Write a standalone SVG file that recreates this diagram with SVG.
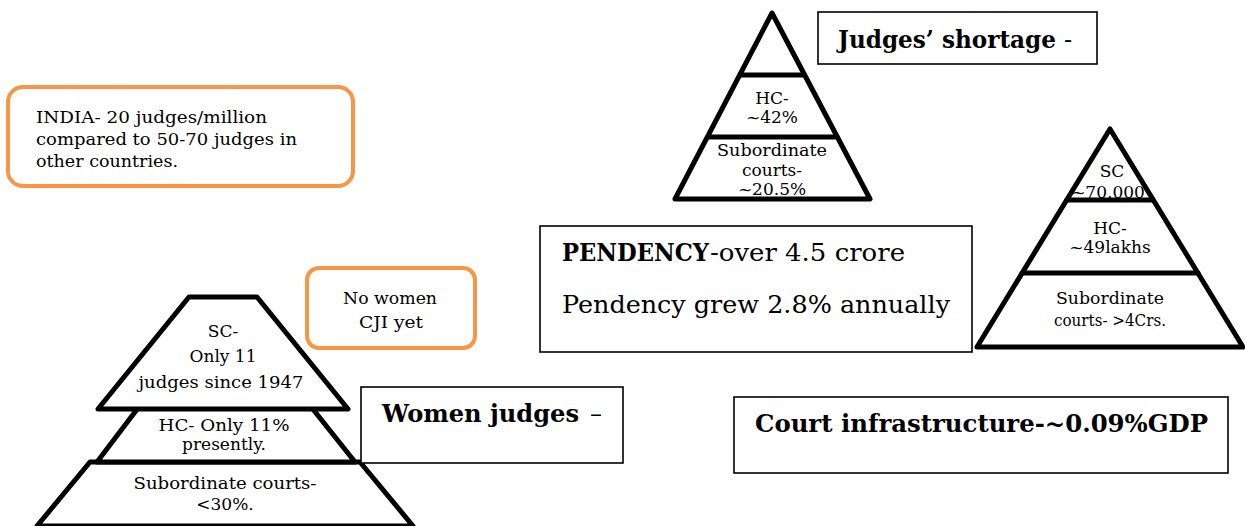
<svg xmlns="http://www.w3.org/2000/svg" width="1245" height="526" viewBox="0 0 1245 526">
<style>
.bg{fill:#ffffff}
.pyr{fill:#ffffff;stroke:#000;stroke-width:5;stroke-linejoin:round}
.div{stroke:#000;stroke-width:5;stroke-linecap:round}
.box{fill:#ffffff;stroke:#000;stroke-width:1.6}
.obox{fill:#ffffff;stroke:#F79646;stroke-width:4}
text{font-family:"DejaVu Serif","Liberation Serif",serif;fill:#000}
.s{font-size:16.5px}
.m{font-size:17px}
.l{font-size:24px}
.b{font-weight:bold}
.c{text-anchor:middle}
</style>
<rect class="bg" x="0" y="0" width="1245" height="526"/>

<g id="pyramid-shortage">
<polygon class="pyr" points="772,13 870,199 675,199"/>
<line class="div" x1="740" y1="75" x2="804" y2="75"/>
<line class="div" x1="708" y1="137" x2="837" y2="137"/>
<text class="m c" x="772" y="104">HC-</text>
<text class="m c" x="772" y="123">~42%</text>
<text class="m c" x="772" y="156" textLength="110" lengthAdjust="spacingAndGlyphs">Subordinate</text>
<text class="m c" x="772" y="176">courts-</text>
<text class="m c" x="772" y="195">~20.5%</text>
</g>

<g id="judges-shortage">
<rect class="box" x="818" y="12" width="279" height="52"/>
<text class="l b" x="838" y="48" textLength="218" lengthAdjust="spacingAndGlyphs">Judges’ shortage</text>
<text class="l" x="1064" y="48">-</text>
</g>

<g id="pyramid-pendency">
<polygon class="pyr" points="1110,129 1243,347 977,347"/>
<line class="div" x1="1067" y1="200" x2="1153" y2="200"/>
<line class="div" x1="1022" y1="273" x2="1198" y2="273"/>
<text class="m c" x="1112" y="177">SC</text>
<text class="m c" x="1108" y="198" font-size="16">~70,000</text>
<text class="m c" x="1110" y="234">HC-</text>
<text class="m c" x="1110" y="253">~49lakhs</text>
<text class="m c" x="1110" y="304" textLength="108" lengthAdjust="spacingAndGlyphs">Subordinate</text>
<text class="m c" x="1110" y="326" textLength="112" lengthAdjust="spacingAndGlyphs">courts- &gt;4Crs.</text>
</g>

<g id="india-note">
<rect class="obox" x="8" y="87" width="345" height="99" rx="15"/>
<text class="m" x="36" y="123" textLength="231" lengthAdjust="spacingAndGlyphs">INDIA- 20 judges/million</text>
<text class="m" x="36" y="145" textLength="261" lengthAdjust="spacingAndGlyphs">compared to 50-70 judges in</text>
<text class="m" x="36" y="167" textLength="142" lengthAdjust="spacingAndGlyphs">other countries.</text>
</g>

<g id="pendency">
<rect class="box" x="540" y="226" width="432" height="126"/>
<text class="l b" x="562" y="261" textLength="147" lengthAdjust="spacingAndGlyphs">PENDENCY</text>
<text class="l" x="710" y="261" textLength="195" lengthAdjust="spacingAndGlyphs">-over 4.5 crore</text>
<text class="l" x="562" y="313" textLength="388" lengthAdjust="spacingAndGlyphs">Pendency grew 2.8% annually</text>
</g>

<g id="no-women-cji">
<rect class="obox" x="307" y="268" width="168" height="80" rx="12"/>
<text class="s c" x="390" y="304" textLength="94" lengthAdjust="spacingAndGlyphs">No women</text>
<text class="s c" x="391" y="328" textLength="64" lengthAdjust="spacingAndGlyphs">CJI yet</text>
</g>

<g id="pyramid-women">
<polygon class="pyr" points="90,462 360,462 413,526 37,526"/>
<polygon class="pyr" points="138,408 312,408 355,462 97,462"/>
<polygon class="pyr" points="189,297 257,297 348,409 98,409"/>
<text class="m c" x="223" y="337">SC-</text>
<text class="m c" x="223" y="362">Only 11</text>
<text class="m c" x="221" y="388" textLength="165" lengthAdjust="spacingAndGlyphs">judges since 1947</text>
<text class="m c" x="224" y="431" textLength="131" lengthAdjust="spacingAndGlyphs">HC- Only 11%</text>
<text class="m c" x="224" y="450">presently.</text>
<text class="m c" x="225" y="489" textLength="183" lengthAdjust="spacingAndGlyphs">Subordinate courts-</text>
<text class="m c" x="225" y="510">&lt;30%.</text>
</g>

<g id="women-judges">
<rect class="box" x="361" y="387" width="262" height="76"/>
<text class="l b" x="382" y="422" textLength="197" lengthAdjust="spacingAndGlyphs">Women judges</text>
<text class="l" x="590" y="422">–</text>
</g>

<g id="court-infrastructure">
<rect class="box" x="734" y="397" width="494" height="76"/>
<text class="l b" x="755" y="432" textLength="453" lengthAdjust="spacingAndGlyphs">Court infrastructure-~0.09%GDP</text>
</g>

<g id="connectors"></g>
</svg>
